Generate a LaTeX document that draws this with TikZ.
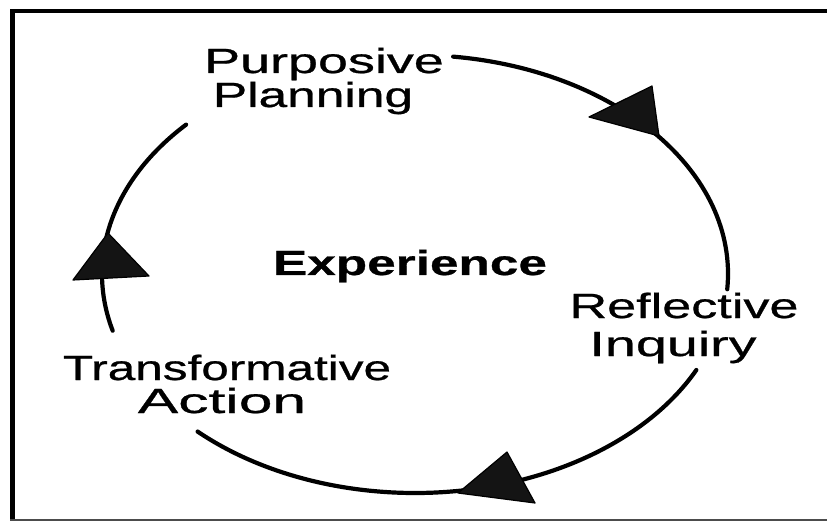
\documentclass[tikz,border=0pt]{standalone}
\usepackage{fontspec}
\setmainfont[FakeBold=0.6]{Liberation Sans}
\newfontfamily\boldlab[FakeBold=0.6]{Liberation Sans Bold}
\newcommand\xstretch[2]{\scalebox{#1}[1]{#2}}
\tikzset{
  lbl/.style={inner sep=0pt, anchor=base, font=\fontsize{35}{34}\selectfont},
  cyc/.style={line width=4.2pt, line cap=round},
  head/.style={fill=black!92, draw=black, line width=1.2pt, line join=round},
  frame/.style={line width=4.5pt}
}
\begin{document}
\begin{tikzpicture}[x=1pt,y=-1pt]
\useasboundingbox (0,0) rectangle (827,521);
% frame
\draw[frame] (830,11) -- (12.5,11) -- (12.5,523);
\draw[line width=2pt, black!70] (10,520) -- (830,520);
% centre of the cycle
\coordinate (c) at (415,274);
% labels
\node[lbl] (pp1) at (324,73) {\xstretch{1.54}{Purposive}};
\node[lbl] (pp2) at (313,107) {\xstretch{1.47}{Planning}};
\node[lbl, font=\fontsize{35}{34}\selectfont\boldlab] (exp) at (410,275) {\xstretch{1.467}{Experience}};
\node[lbl] (ri1) at (684,318) {\xstretch{1.49}{Reflective}};
\node[lbl] (ri2) at (673,356) {\xstretch{1.59}{Inquiry}};
\node[lbl] (ta1) at (227,380) {\xstretch{1.414}{Transformative}};
\node[lbl] (ta2) at (222,413) {\xstretch{1.73}{Action}};
% arcs
\draw[cyc] (c) ++(-83:313 and 219) arc[start angle=-83, end angle=4, x radius=313, y radius=219];
\draw[cyc] (c) ++(26:313 and 219) arc[start angle=26, end angle=134, x radius=313, y radius=219];
\draw[cyc] (c) ++(165:313 and 219) arc[start angle=165, end angle=223, x radius=313, y radius=219];
% arrow heads
\filldraw[head] (589,117) -- (652,86) -- (659,136) -- cycle;
\filldraw[head] (458,493) -- (507,452) -- (535,503) -- cycle;
\filldraw[head] (108,233) -- (73,280) -- (149,276) -- cycle;
\end{tikzpicture}
\end{document}
